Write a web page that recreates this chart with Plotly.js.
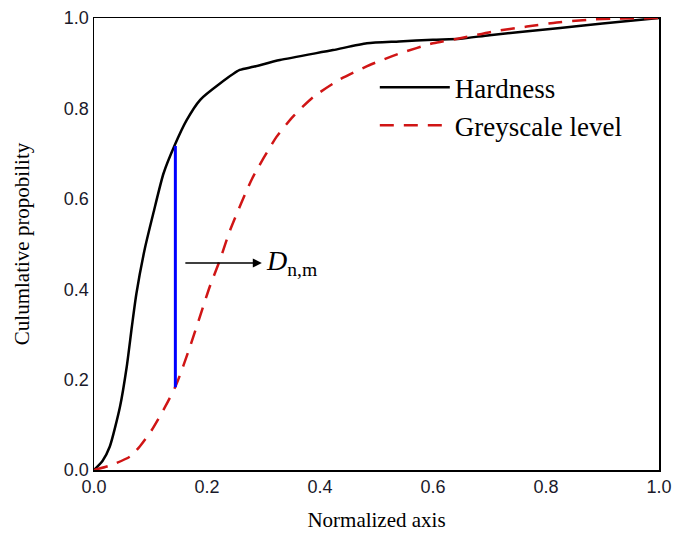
<!DOCTYPE html>
<html>
<head>
<meta charset="utf-8">
<script src="https://cdn.plot.ly/plotly-3.0.1.min.js"></script>
<style>html,body{margin:0;padding:0;background:#fff;}#chart{width:688px;height:536px;}</style>
</head>
<body>
<div id="chart"></div>
<script>
// Hardness CDF
var hardX = [0, 0.015, 0.028, 0.046, 0.058, 0.067, 0.075, 0.09, 0.105, 0.123, 0.143, 0.164, 0.188, 0.223, 0.258, 0.282, 0.329, 0.423, 0.483, 0.54, 0.6, 0.648, 0.7, 0.825, 0.9, 1.0];
var hardY = [0, 0.02, 0.052, 0.14, 0.229, 0.317, 0.39, 0.49, 0.568, 0.656, 0.719, 0.774, 0.819, 0.855, 0.885, 0.892, 0.907, 0.929, 0.944, 0.948, 0.952, 0.954, 0.962, 0.978, 0.988, 1.0];
// Greyscale level CDF
var greyX = [0, 0.031, 0.064, 0.081, 0.102, 0.126, 0.146, 0.17, 0.193, 0.205, 0.223, 0.241, 0.28, 0.323, 0.353, 0.388, 0.435, 0.488, 0.542, 0.6, 0.648, 0.706, 0.766, 0.819, 0.873, 0.93, 1.0];
var greyY = [0, 0.011, 0.03, 0.052, 0.088, 0.14, 0.19, 0.273, 0.361, 0.406, 0.465, 0.531, 0.645, 0.737, 0.783, 0.825, 0.864, 0.896, 0.922, 0.944, 0.955, 0.97, 0.981, 0.99, 0.996, 0.999, 1.0];
// KS statistic D(n,m) segment
var dX = [0.144, 0.144];
var dY = [0.183, 0.717];
// Arrow pointing to label
var arrowTail = [0.159, 0.458];
var arrowHead = [0.297, 0.458];
var tickVals = [0, 0.2, 0.4, 0.6, 0.8, 1.0];
var tickText = ['0.0', '0.2', '0.4', '0.6', '0.8', '1.0'];

var serif = '"Liberation Serif", "Times New Roman", serif';
var sans = '"Liberation Sans", Arial, sans-serif';

var traces = [
  {x: hardX, y: hardY, mode: 'lines', name: 'Hardness', line: {color: '#000000', width: 2.5, shape: 'spline', smoothing: 0.6}},
  {x: greyX, y: greyY, mode: 'lines', name: 'Greyscale level', line: {color: '#d01515', width: 2.5, dash: '14px,10px', shape: 'spline', smoothing: 0.6}},
  {x: dX, y: dY, mode: 'lines', showlegend: false, line: {color: '#0000ff', width: 3}}
];

var layout = {
  width: 688, height: 536,
  margin: {l: 94, r: 29, t: 18, b: 66},
  paper_bgcolor: '#ffffff', plot_bgcolor: '#ffffff',
  showlegend: true,
  legend: {x: 0.497, y: 0.9, xanchor: 'left', yanchor: 'top', itemwidth: 70,
    font: {family: serif, size: 27, color: '#000'}, bgcolor: 'rgba(0,0,0,0)', tracegroupgap: 0},
  xaxis: {range: [0, 1], tickvals: tickVals, ticktext: tickText, ticks: '', showgrid: false, zeroline: false,
    showline: true, mirror: true, linecolor: '#000', linewidth: 1.5,
    tickfont: {family: sans, size: 18, color: '#1a1a2a'},
    title: {text: 'Normalized axis', font: {family: serif, size: 21, color: '#000'}, standoff: 16}},
  yaxis: {range: [0, 1], tickvals: tickVals, ticktext: tickText, ticks: '', showgrid: false, zeroline: false,
    showline: true, mirror: true, linecolor: '#000', linewidth: 1.5,
    tickfont: {family: sans, size: 18, color: '#1a1a2a'},
    title: {text: 'Culumlative propobility', font: {family: serif, size: 21, color: '#000'}, standoff: 28}},
  annotations: [
    {x: arrowHead[0], y: arrowHead[1], ax: arrowTail[0], ay: arrowTail[1], axref: 'x', ayref: 'y', xref: 'x', yref: 'y',
     text: '', showarrow: true, arrowhead: 2, arrowsize: 1.2, arrowwidth: 1.5, arrowcolor: '#000'},
    {x: 0.3, y: 0.458, xref: 'x', yref: 'y', xanchor: 'left', yanchor: 'middle', showarrow: false,
     text: '<i>D</i><sub>n,m</sub>', font: {family: serif, size: 28, color: '#000'}}
  ]
};

Plotly.newPlot('chart', traces, layout, {displayModeBar: false, staticPlot: true});
</script>
</body>
</html>
